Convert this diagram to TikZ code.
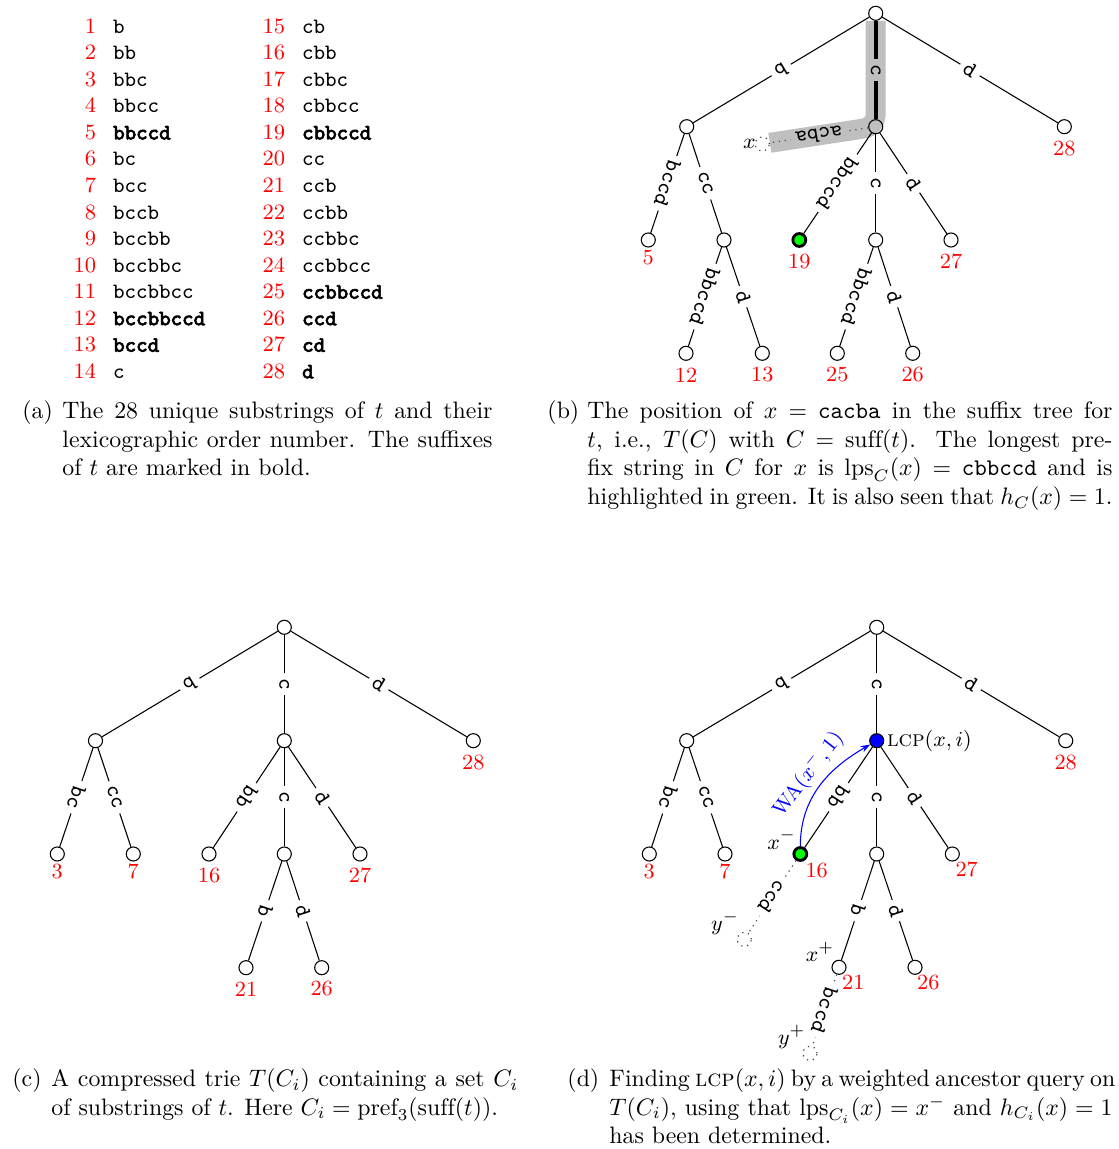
\documentclass[tikz,border=0pt]{standalone}
\usepackage{fontspec}
\newfontfamily\ttboldfam{Latin Modern Mono}[FakeBold=3]
\newcommand\tbold[1]{{\ttboldfam #1}}
\usetikzlibrary{calc,arrows.meta,backgrounds}
\tikzset{
  vtx/.style={circle,draw,fill=white,minimum size=5.9pt,inner sep=0pt,line width=0.45pt},
  hlvtx/.style={circle,draw,minimum size=5.9pt,inner sep=0pt,line width=0.45pt},
  ghost/.style={circle,draw=black!75,dotted,fill=white,minimum size=5.9pt,inner sep=0pt,line width=0.5pt},
  greenvtx/.style={circle,draw,fill=green,minimum size=5.4pt,inner sep=0pt,line width=1.2pt},
  bluevtx/.style={circle,draw,fill=blue,minimum size=5.9pt,inner sep=0pt,line width=0.45pt},
  lab/.style={sloped,allow upside down,fill=white,inner xsep=2.2pt,inner ysep=1pt,font=\fontsize{9.4}{10}\selectfont\ttfamily},
  glab/.style={lab,fill=black!25},
  num/.style={text=red,inner sep=0pt,font=\fontsize{9.1}{10}\selectfont},
  mlab/.style={inner sep=0pt,font=\fontsize{9.5}{11}\selectfont},
  tree/.style={line width=0.45pt},
  dots/.style={draw=black!70,dotted,line width=0.5pt},
  band/.style={draw=black!25,line width=8.4pt,rounded corners=5pt},
  tnum/.style={text=red,inner sep=0pt,font=\fontsize{9.2}{10}\selectfont},
  tstr/.style={inner sep=0pt,font=\fontsize{9.2}{10}\selectfont\ttfamily},
  captxt/.style={inner sep=0pt,font=\fontsize{10}{12}\selectfont},
  waarrow/.style={blue,line width=0.45pt,-{Stealth[length=4pt,width=2.8pt]}},
}
\begin{document}
\begin{tikzpicture}[x=0.42pt,y=-0.42pt]
\useasboundingbox (0,0) rectangle (1118,1149);

% ---------------- (a) table ----------------
\foreach \s [count=\i] in {b,bb,bbc,bbcc,\tbold{bbccd},bc,bcc,bccb,bccbb,bccbbc,bccbbcc,\tbold{bccbbccd},\tbold{bccd},c}{
  \node[tnum,anchor=base east] (ta\i) at (96.5,{33.3+(\i-1)*26.54}) {\i};
  \node[tstr,anchor=base west] (sa\i) at (112.7,{33.3+(\i-1)*26.54}) {\s};
}
\foreach \s [count=\i] in {cb,cbb,cbbc,cbbcc,\tbold{cbbccd},cc,ccb,ccbb,ccbbc,ccbbcc,\tbold{ccbbccd},\tbold{ccd},\tbold{cd},\tbold{d}}{
  \pgfmathtruncatemacro\j{\i+14}
  \node[tnum,anchor=base east] (tb\i) at (285.7,{33.3+(\i-1)*26.54}) {\j};
  \node[tstr,anchor=base west] (sb\i) at (301.7,{33.3+(\i-1)*26.54}) {\s};
}

% ---------------- (b) suffix tree ----------------
\node[vtx] (b0) at (875.7,13.3) {};
\node[vtx] (bL) at (686.7,126.7) {};
\node[hlvtx] (bM) at (875.7,126.7) {};
\node[vtx] (b28) at (1064.3,126.7) {};
\node[ghost] (bx) at (762.3,144) {};
\node[vtx] (b5) at (648.3,240) {};
\node[vtx] (bLc) at (724,240) {};
\node[greenvtx] (b19) at (799.3,240) {};
\node[vtx] (bMc) at (875.7,240) {};
\node[vtx] (b27) at (951,240) {};
\node[vtx] (b12) at (686,353.3) {};
\node[vtx] (b13) at (762.3,353.3) {};
\node[vtx] (b25) at (837.3,353.3) {};
\node[vtx] (b26) at (912.7,353.3) {};

\begin{pgfonlayer}{background}
\draw[band] (b0) -- (bM.center) -- (bx);
\end{pgfonlayer}

\draw[tree] (b0) -- node[lab] {b} (bL);
\draw[line width=1.7pt] (b0) -- node[glab] {c} (bM);
\draw[tree] (b0) -- node[lab] {d} (b28);
\draw[tree] (bL) -- node[lab] {bccd} (b5);
\draw[tree] (bL) -- node[lab] {cc} (bLc);
\draw[tree] (bLc) -- node[lab] {bbccd} (b12);
\draw[tree] (bLc) -- node[lab] {d} (b13);
\draw[tree] (bM) -- node[lab] {bbccd} (b19);
\draw[tree] (bM) -- node[lab] {c} (bMc);
\draw[tree] (bM) -- node[lab] {d} (b27);
\draw[tree] (bMc) -- node[lab] {bbccd} (b25);
\draw[tree] (bMc) -- node[lab] {d} (b26);
\draw[dots] (bM) -- node[glab] {acba} (bx);

\node[mlab,anchor=east] (bxl) at (756,144) {$x$};
\node[num] (lb28) at (1064.3,148.3) {28};
\node[num] (lb5) at (648.3,257.5) {5};
\node[num] (lb19) at (799.3,262) {19};
\node[num] (lb27) at (951,261) {27};
\node[num] (lb12) at (686,375) {12};
\node[num] (lb13) at (762.3,375) {13};
\node[num] (lb25) at (837.3,375) {25};
\node[num] (lb26) at (912.7,375) {26};

% ---------------- (c) compressed trie ----------------
\node[vtx] (c0) at (284.3,627.3) {};
\node[vtx] (cL) at (95.5,740.7) {};
\node[vtx] (cM) at (284.3,740.7) {};
\node[vtx] (c28) at (473.3,740.7) {};
\node[vtx] (c3) at (57.3,854) {};
\node[vtx] (c7) at (133.3,854) {};
\node[vtx] (c16) at (209,854) {};
\node[vtx] (cMc) at (284.3,854) {};
\node[vtx] (c27) at (360,854) {};
\node[vtx] (c21) at (246,967.7) {};
\node[vtx] (c26) at (321.7,967.7) {};

\draw[tree] (c0) -- node[lab] {b} (cL);
\draw[tree] (c0) -- node[lab] {c} (cM);
\draw[tree] (c0) -- node[lab] {d} (c28);
\draw[tree] (cL) -- node[lab] {bc} (c3);
\draw[tree] (cL) -- node[lab] {cc} (c7);
\draw[tree] (cM) -- node[lab] {bb} (c16);
\draw[tree] (cM) -- node[lab] {c} (cMc);
\draw[tree] (cM) -- node[lab] {d} (c27);
\draw[tree] (cMc) -- node[lab] {b} (c21);
\draw[tree] (cMc) -- node[lab] {d} (c26);

\node[num] (lc28) at (473.3,762.7) {28};
\node[num] (lc3) at (57.3,871.7) {3};
\node[num] (lc7) at (133.3,871.7) {7};
\node[num] (lc16) at (209,875.7) {16};
\node[num] (lc27) at (360,875.7) {27};
\node[num] (lc21) at (246,989) {21};
\node[num] (lc26) at (321.7,989) {26};

% ---------------- (d) LCP query ----------------
\node[vtx] (d0) at (876.7,627.3) {};
\node[vtx] (dL) at (686.7,740.7) {};
\node[bluevtx] (dM) at (876.7,740.7) {};
\node[vtx] (d28) at (1065.7,740.7) {};
\node[vtx] (d3) at (649.3,854) {};
\node[vtx] (d7) at (725,854) {};
\node[greenvtx] (d16) at (800.3,854) {};
\node[vtx] (dMc) at (876.7,854) {};
\node[vtx] (d27) at (952.3,854) {};
\node[vtx] (d21) at (839,967.3) {};
\node[vtx] (d26) at (915,967.3) {};
\node[ghost] (dym) at (744.3,939.3) {};
\node[ghost] (dyp) at (810,1053.3) {};

\draw[tree] (d0) -- node[lab] {b} (dL);
\draw[tree] (d0) -- node[lab] {c} (dM);
\draw[tree] (d0) -- node[lab] {d} (d28);
\draw[tree] (dL) -- node[lab] {bc} (d3);
\draw[tree] (dL) -- node[lab] {cc} (d7);
\draw[tree] (dM) -- node[lab] {bb} (d16);
\draw[tree] (dM) -- node[lab] {c} (dMc);
\draw[tree] (dM) -- node[lab] {d} (d27);
\draw[tree] (dMc) -- node[lab] {b} (d21);
\draw[tree] (dMc) -- node[lab] {d} (d26);
\draw[dots] (d16) -- node[lab] {ccd} (dym);
\draw[dots] (d21) -- node[lab] {bccd} (dyp);

\draw[waarrow] (d16) to[out=90,in=210]
  node[pos=0.52,sloped,above,inner sep=2pt,font=\fontsize{8.6}{10}\selectfont,text=blue] {WA$(x^-,1)$} (dM);

\node[mlab,anchor=west] (lcp) at ([xshift=1pt]dM.east) {\textsc{lcp}$(x,i)$};
\node[mlab] (xm) at (781.7,839.3) {$x^-$};
\node[mlab] (ym) at (725,923.3) {$y^-$};
\node[mlab] (xp) at (820,951.7) {$x^+$};
\node[mlab] (yp) at (791.7,1036.7) {$y^+$};

\node[num] (ld28) at (1065.7,762.3) {28};
\node[num] (ld3) at (649.3,871.7) {3};
\node[num] (ld7) at (725,871.7) {7};
\node[num] (ld16) at (816.7,870.3) {16};
\node[num] (ld27) at (966.7,869.3) {27};
\node[num] (ld21) at (853.3,982.3) {21};
\node[num] (ld26) at (928.3,982.3) {26};

% ---------------- captions ----------------
\node[captxt,anchor=base west] (capa0) at (22,419) {(a)};
\node[captxt,anchor=base west] (capa1) at (62,419) {\makebox[180.6pt][s]{The 28 unique substrings of $t$ and their}};
\node[captxt,anchor=base west] (capa2) at (62,447.5) {\makebox[180.6pt][s]{lexicographic order number. The suffixes}};
\node[captxt,anchor=base west] (capa3) at (62,476) {of $t$ are marked in bold.};

\node[captxt,anchor=base west] (capb0) at (547,419) {(b)};
\node[captxt,anchor=base west] (capb1) at (587,419) {\makebox[220.5pt][s]{The position of $x$ $=$ \texttt{cacba} in the suffix tree for}};
\node[captxt,anchor=base west] (capb2) at (587,447.5) {\makebox[220.5pt][s]{$t$, i.e., $T(C)$ with $C$ $=$ $\mathrm{suff}(t)$. The longest pre-}};
\node[captxt,anchor=base west] (capb3) at (587,476) {\makebox[220.5pt][s]{fix string in $C$ for $x$ is $\mathrm{lps}_C(x)$ $=$ \texttt{cbbccd} and is}};
\node[captxt,anchor=base west] (capb4) at (587,504.5) {\makebox[220.5pt][s]{highlighted in green. It is also seen that $h_C(x) = 1$.}};

\node[captxt,anchor=base west] (capc0) at (12,1086.5) {(c)};
\node[captxt,anchor=base west] (capc1) at (51,1086.5) {\makebox[196.1pt][s]{A compressed trie $T(C_i)$ containing a set $C_i$}};
\node[captxt,anchor=base west] (capc2) at (51,1115) {of substrings of $t$. Here $C_i = \mathrm{pref}_3(\mathrm{suff}(t))$.};

\node[captxt,anchor=base west] (capd0) at (567,1086.5) {(d)};
\node[captxt,anchor=base west] (capd1) at (609,1086.5) {\makebox[211.3pt][s]{Finding \textsc{lcp}$(x,i)$ by a weighted ancestor query on}};
\node[captxt,anchor=base west] (capd2) at (609,1115) {\makebox[211.3pt][s]{$T(C_i)$, using that $\mathrm{lps}_{C_i}(x) = x^-$ and $h_{C_i}(x) = 1$}};
\node[captxt,anchor=base west] (capd3) at (609,1143.5) {has been determined.};
\end{tikzpicture}
\end{document}
